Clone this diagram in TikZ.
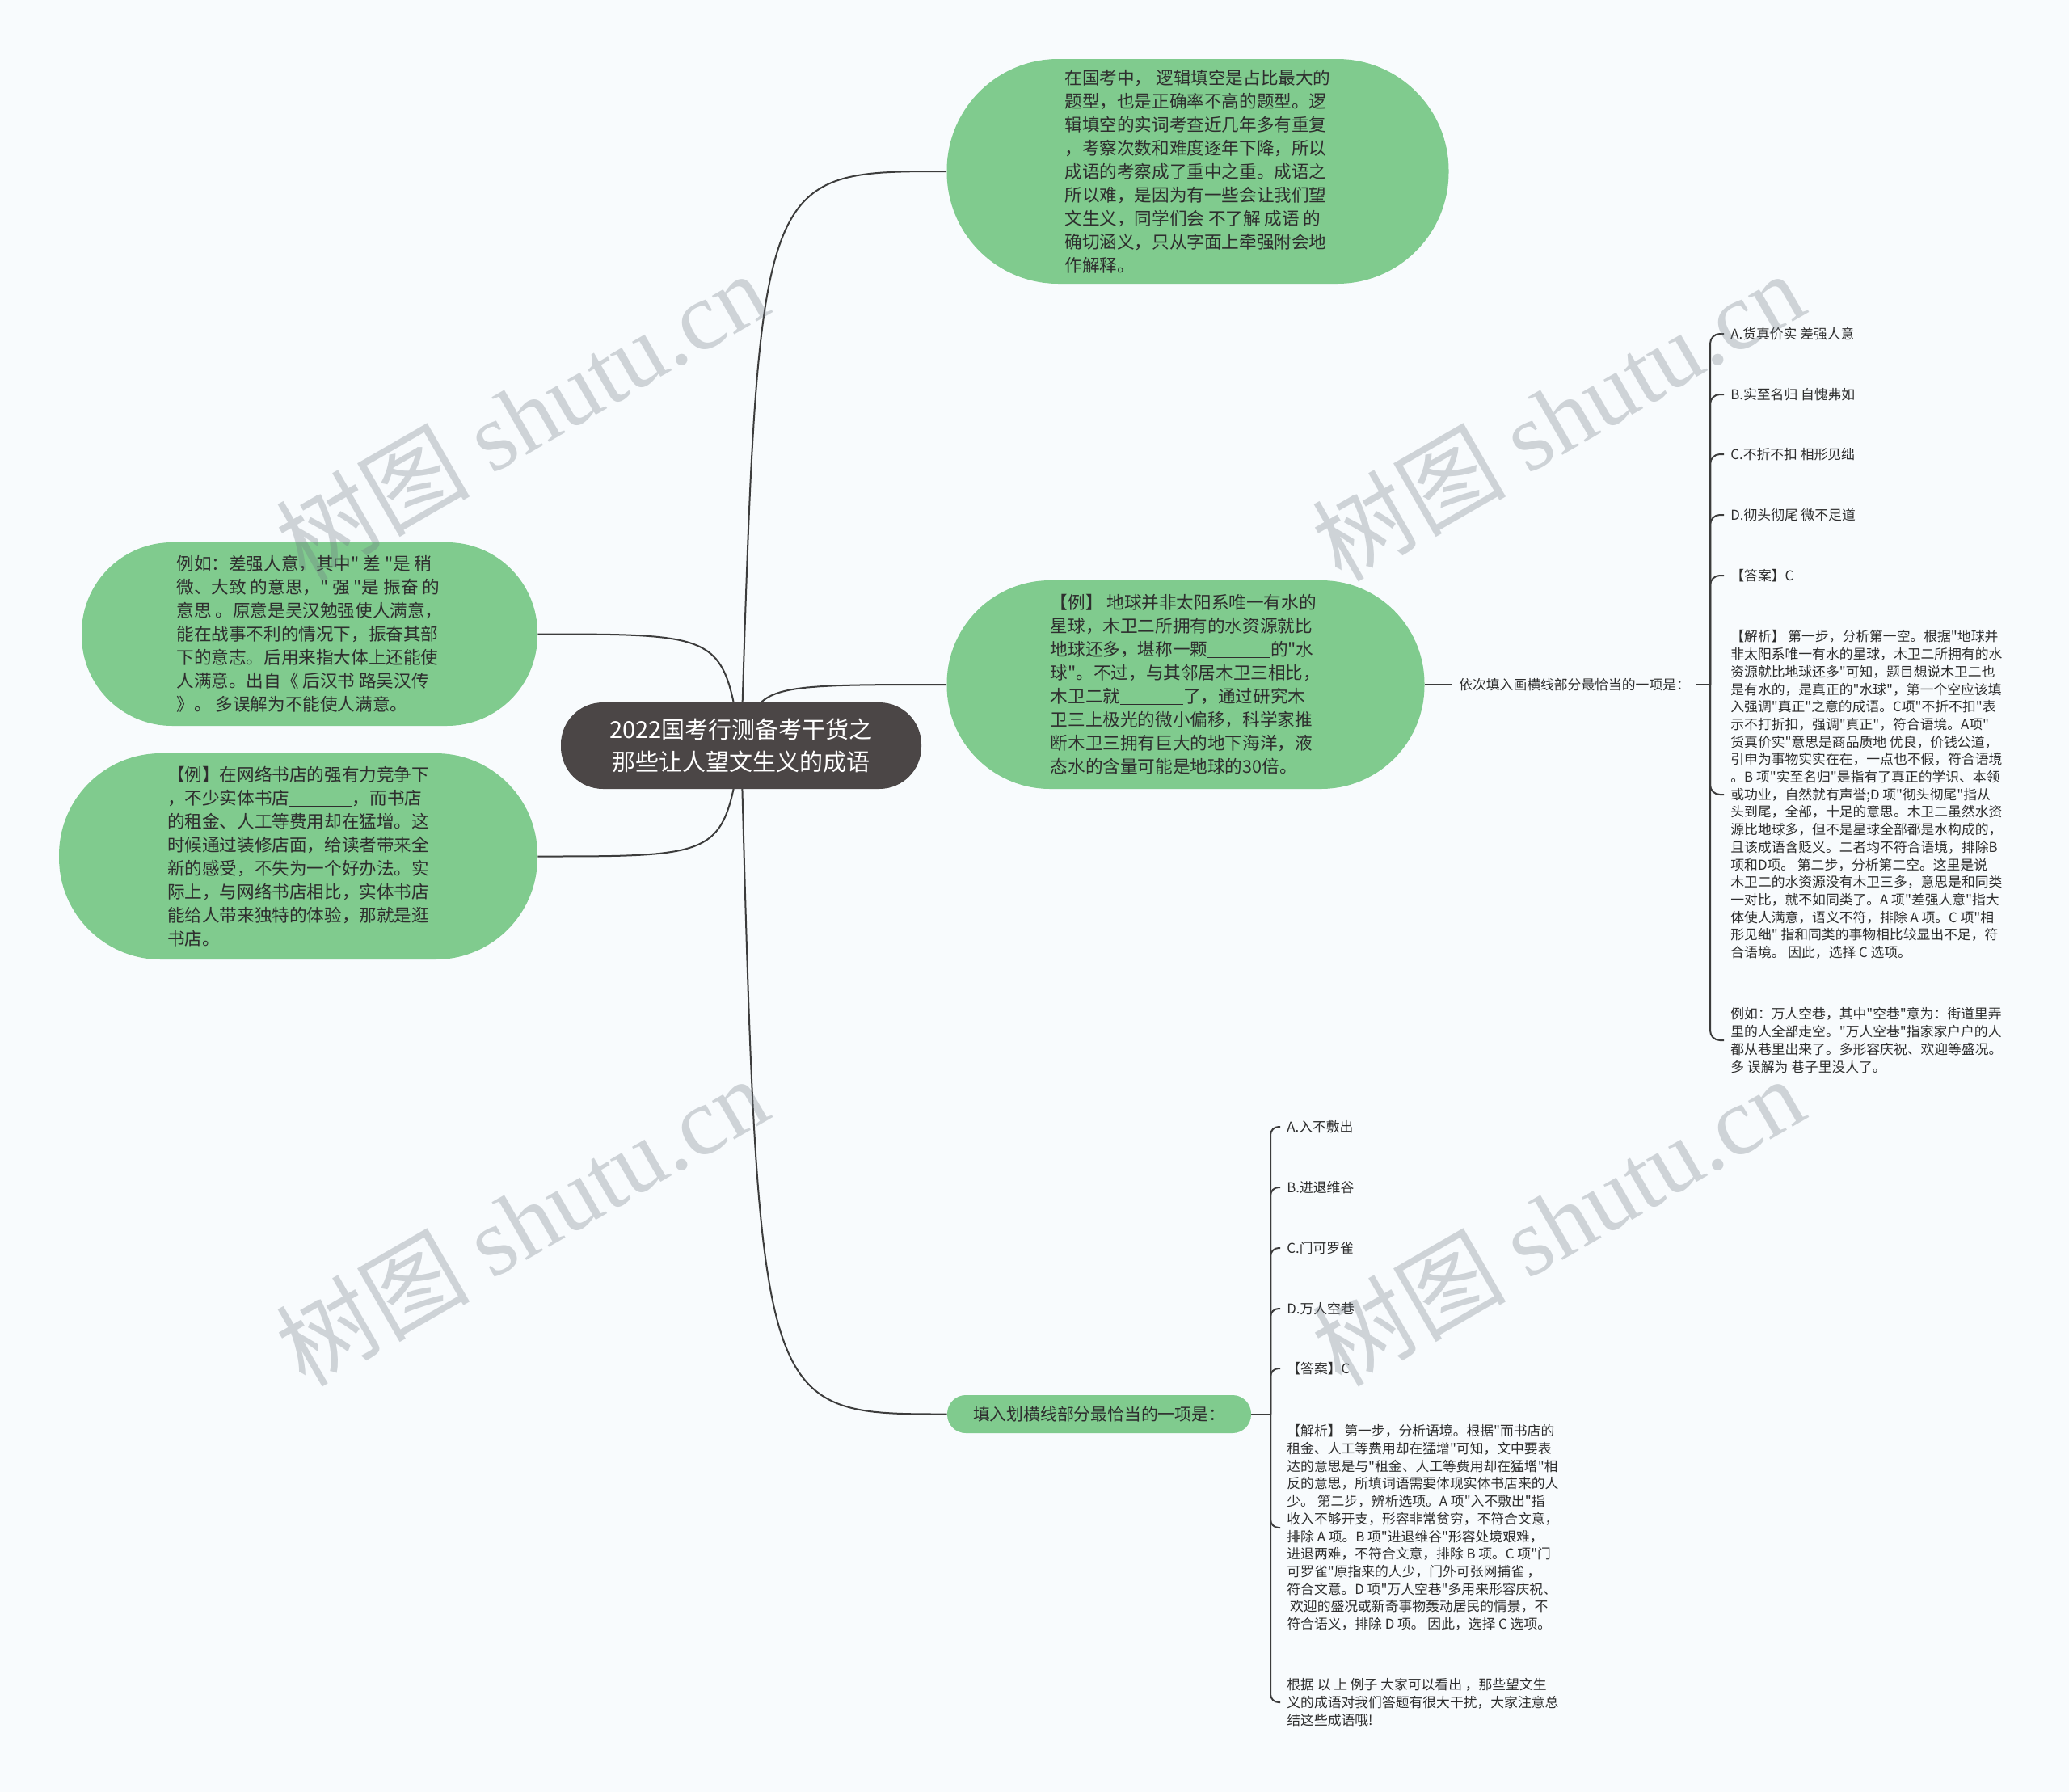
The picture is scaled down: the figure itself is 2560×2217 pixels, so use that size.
\documentclass[tikz,border=0pt]{standalone}
\usepackage{fontspec}
\setmainfont{Noto Sans CJK SC}[Ligatures=TeXOff]
\newfontfamily\wmfont{Liberation Serif}
\usepackage{tikz}
\usetikzlibrary{positioning, calc}

\definecolor{mapgreen}{HTML}{80CB8E}
\definecolor{mapdark}{HTML}{4B4646}
\definecolor{mapline}{HTML}{3C3C3C}
\definecolor{maptext}{HTML}{2E2E2E}
\definecolor{mappaper}{HTML}{F8FBFD}
\definecolor{mapmark}{HTML}{6E7882}

\newcommand{\blank}{\rule[-0.12em]{3.6em}{0.06em}}

\pgfdeclarelayer{paper}
\pgfdeclarelayer{links}
\pgfsetlayers{paper,links,main}

\tikzset{
  topic/.style={fill=mapgreen, text=maptext, align=left, inner sep=0pt,
    font=\fontsize{10.8pt}{14.5pt}\selectfont},
  root/.style={fill=mapdark, text=white, align=center, inner sep=0pt,
    font=\fontsize{14.5pt}{20pt}\selectfont},
  leaf/.style={text=maptext, align=left, inner sep=4pt, anchor=west,
    font=\fontsize{8.4pt}{10.85pt}\selectfont},
  link/.style={draw=mapline, line width=1pt},
  wmark/.style={text=mapmark, opacity=0.3, rotate=30,
    font=\fontsize{60pt}{60pt}\selectfont},
}

\begin{document}
\begin{tikzpicture}[x=0.5pt, y=-0.5pt]
      \useasboundingbox (0,0) rectangle (2560,2217);%
      \begin{pgfonlayer}{paper}
        \fill [mappaper] (0,0) rectangle (2560,2217);%
      \end{pgfonlayer}

      % root
      \node [root, minimum width=223pt, minimum height=53.5pt,
      rounded corners=26pt] (root) at (917,922.5)
      {2022国考行测备考干货之\\那些让人望文生义的成语};%

      % topics
      \node [topic, minimum width=310.5pt, minimum height=139pt,
      rounded corners=69pt] (intro) at (1482,212)
      {在国考中， 逻辑填空是占比最大的\\
       题型，也是正确率不高的题型。逻\\
       辑填空的实词考查近几年多有重复\\
       ，考察次数和难度逐年下降，所以\\
       成语的考察成了重中之重。成语之\\
       所以难，是因为有一些会让我们望\\
       文生义，同学们会 不了解 成语 的\\
       确切涵义，只从字面上牵强附会地\\
       作解释。};%

      \node [topic, minimum width=295.5pt, minimum height=129pt,
      rounded corners=64pt] (earth) at (1467,847)
      {【例】 地球并非太阳系唯一有水的\\
       星球，木卫二所拥有的水资源就比\\
       地球还多，堪称一颗\blank 的"水\\
       球"。不过，与其邻居木卫三相比，\\
       木卫二就\blank 了，通过研究木\\
       卫三上极光的微小偏移，科学家推\\
       断木卫三拥有巨大的地下海洋，液\\
       态水的含量可能是地球的30倍。};%

      \node [topic, minimum width=282pt, minimum height=113.5pt,
      rounded corners=56pt] (idiom) at (383,784.5)
      {例如：差强人意，其中" 差 "是 稍\\
       微、大致 的意思，" 强 "是 振奋 的\\
       意思 。原意是吴汉勉强使人满意，\\
       能在战事不利的情况下，振奋其部\\
       下的意志。后用来指大体上还能使\\
       人满意。出自《 后汉书 路吴汉传\\
       》。 多误解为不能使人满意。};%

      \node [topic, minimum width=296pt, minimum height=127.5pt,
      rounded corners=63pt] (shop) at (369,1059.5)
      {【例】在网络书店的强有力竞争下\\
       ，不少实体书店\blank ，而书店\\
       的租金、人工等费用却在猛增。这\\
       时候通过装修店面，给读者带来全\\
       新的感受，不失为一个好办法。实\\
       际上，与网络书店相比，实体书店\\
       能给人带来独特的体验，那就是逛\\
       书店。};%

      \node [topic, minimum width=188pt, minimum height=23.5pt,
      rounded corners=11.5pt, font=\fontsize{10.4pt}{13pt}\selectfont]
      (ask2) at (1360,1749.5) {填入划横线部分最恰当的一项是：};%

      % first question
      \node [leaf, right=17pt of earth] (ask1)
      {依次填入画横线部分最恰当的一项是：};%
      \coordinate (fork1) at (2116,847);%

      \node [leaf] (ea) at (2133,413) {A.货真价实 差强人意};%
      \node [leaf] (eb) at (2133,488) {B.实至名归 自愧弗如};%
      \node [leaf] (ec) at (2133,562) {C.不折不扣 相形见绌};%
      \node [leaf] (ed) at (2133,637) {D.彻头彻尾 微不足道};%
      \node [leaf] (ekey) at (2133,712) {【答案】C};%
      \node [leaf] (ewhy) at (2133,983)
      {【解析】 第一步，分析第一空。根据"地球并\\
       非太阳系唯一有水的星球，木卫二所拥有的水\\
       资源就比地球还多"可知，题目想说木卫二也\\
       是有水的，是真正的"水球"，第一个空应该填\\
       入强调"真正"之意的成语。C项"不折不扣"表\\
       示不打折扣，强调"真正"，符合语境。A项"\\
       货真价实"意思是商品质地 优良，价钱公道，\\
       引申为事物实实在在，一点也不假，符合语境\\
       。B 项"实至名归"是指有了真正的学识、本领\\
       或功业，自然就有声誉;D 项"彻头彻尾"指从\\
       头到尾，全部，十足的意思。木卫二虽然水资\\
       源比地球多，但不是星球全部都是水构成的，\\
       且该成语含贬义。二者均不符合语境，排除B\\
       项和D项。 第二步，分析第二空。这里是说\\
       木卫二的水资源没有木卫三多，意思是和同类\\
       一对比，就不如同类了。A 项"差强人意"指大\\
       体使人满意，语义不符，排除 A 项。C 项"相\\
       形见绌" 指和同类的事物相比较显出不足，符\\
       合语境。 因此，选择 C 选项。};%
      \node [leaf] (enote) at (2133,1287)
      {例如：万人空巷，其中"空巷"意为：街道里弄\\
       里的人全部走空。"万人空巷"指家家户户的人\\
       都从巷里出来了。多形容庆祝、欢迎等盛况。\\
       多 误解为 巷子里没人了。};%

      % second question
      \coordinate (fork2) at (1572,1749.5);%
      \node [leaf] (sa) at (1584,1394) {A.入不敷出};%
      \node [leaf] (sb) at (1584,1469) {B.进退维谷};%
      \node [leaf] (sc) at (1584,1544) {C.门可罗雀};%
      \node [leaf] (sd) at (1584,1619) {D.万人空巷};%
      \node [leaf] (skey) at (1584,1693) {【答案】C};%
      \node [leaf] (swhy) at (1584,1890)
      {【解析】 第一步，分析语境。根据"而书店的\\
       租金、人工等费用却在猛增"可知，文中要表\\
       达的意思是与"租金、人工等费用却在猛增"相\\
       反的意思，所填词语需要体现实体书店来的人\\
       少。 第二步，辨析选项。A 项"入不敷出"指\\
       收入不够开支，形容非常贫穷，不符合文意，\\
       排除 A 项。B 项"进退维谷"形容处境艰难，\\
       进退两难，不符合文意，排除 B 项。C 项"门\\
       可罗雀"原指来的人少，门外可张网捕雀 ，\\
       符合文意。D 项"万人空巷"多用来形容庆祝、\\
       \ 欢迎的盛况或新奇事物轰动居民的情景，不\\
       符合语义，排除 D 项。 因此，选择 C 选项。};%
      \node [leaf] (sum) at (1584,2106)
      {根据 以 上 例子 大家可以看出 ，那些望文生\\
       义的成语对我们答题有很大干扰，大家注意总\\
       结这些成语哦!};%

      % links
      \begin{pgfonlayer}{links}
        \draw [link] (root.center) .. controls
        ($(root.center |- intro.west)+(22,0)$) .. (intro.west);%
        \draw [link] (root.center) .. controls
        ($(root.center |- earth.west)+(22,0)$) .. (earth.west);%
        \draw [link] (root.center) .. controls
        ($(root.center |- ask2.west)+(22,0)$) .. (ask2.west);%
        \draw [link] (root.center) .. controls
        ($(root.center |- idiom.east)+(-22,0)$) .. (idiom.east);%
        \draw [link] (root.center) .. controls
        ($(root.center |- shop.east)+(-22,0)$) .. (shop.east);%

        \draw [link] (earth.east) -- (ask1.west);%
        \draw [link] (ask1.east) -- (fork1);%
        \foreach \leafname in {ea, eb, ec, ed, ekey, ewhy, enote}
          \draw [link, rounded corners=6pt] (fork1) |- (\leafname.west);%

        \draw [link] (ask2.east) -- (fork2);%
        \foreach \leafname in {sa, sb, sc, sd, skey, swhy, sum}
          \draw [link, rounded corners=5pt] (fork2) |- (\leafname.west);%
      \end{pgfonlayer}

      % watermarks
      \node [wmark] (wm1) at (645,514) {树图 {\wmfont shutu.cn}};%
      \node [wmark] (wm2) at (1927,514) {树图 {\wmfont shutu.cn}};%
      \node [wmark] (wm3) at (645,1510) {树图 {\wmfont shutu.cn}};%
      \node [wmark] (wm4) at (1927,1510) {树图 {\wmfont shutu.cn}};%
\end{tikzpicture}
\end{document}
